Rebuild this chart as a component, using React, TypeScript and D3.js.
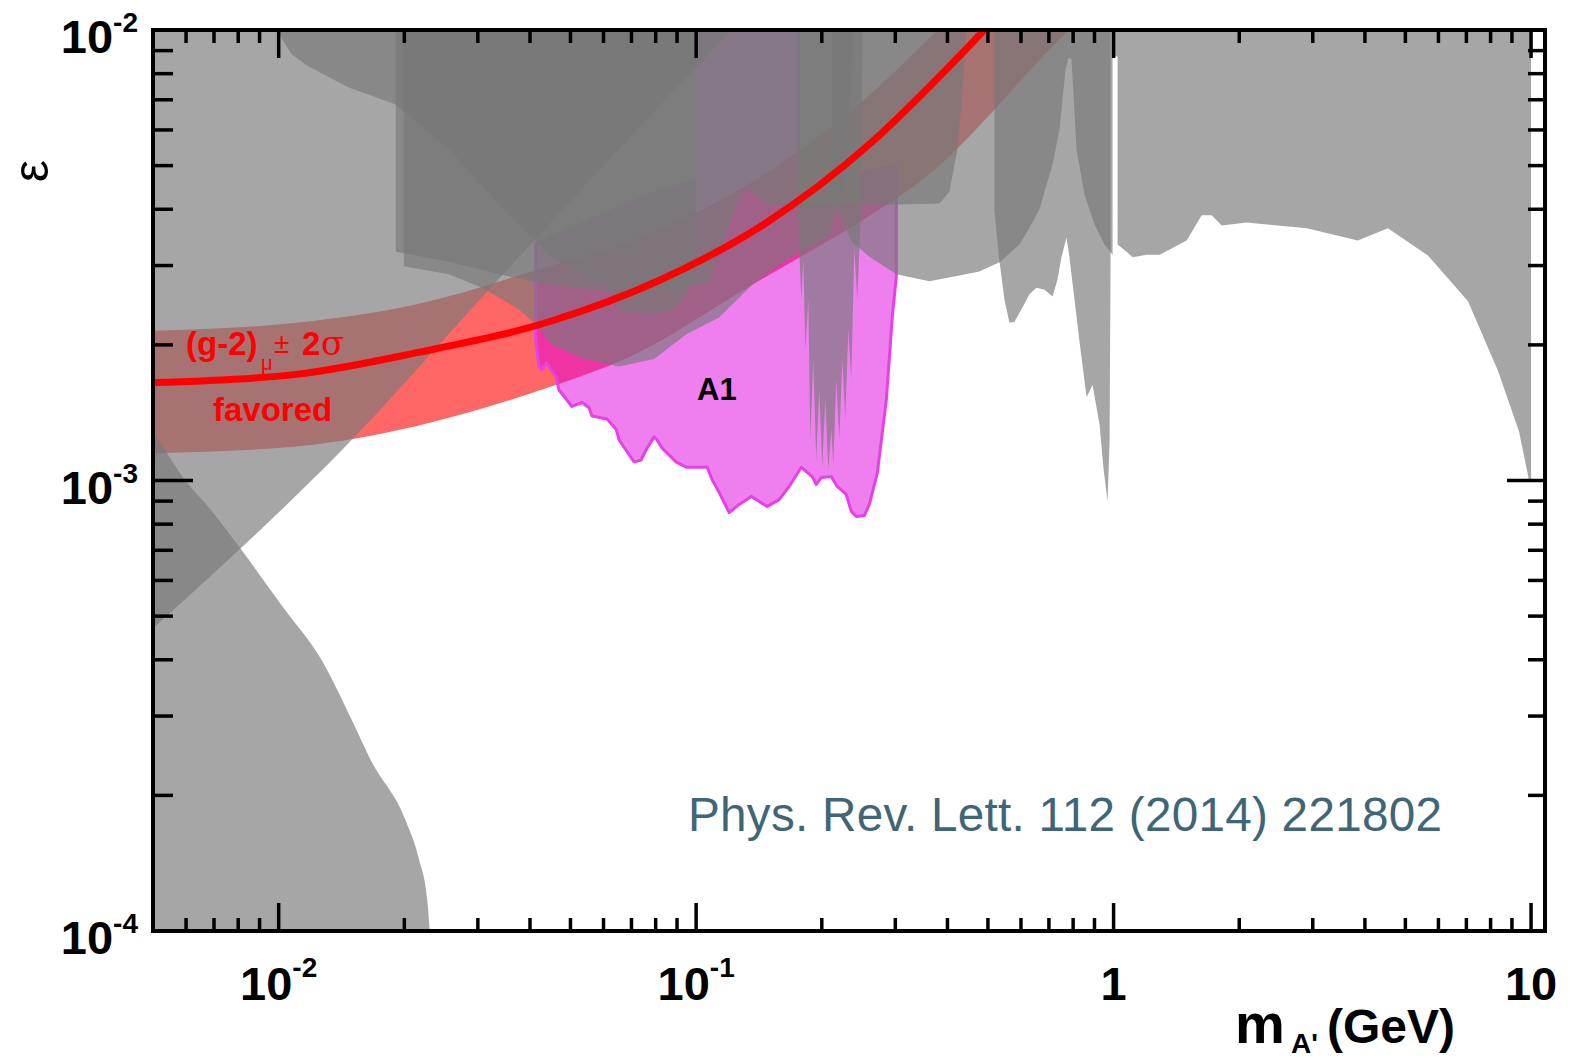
import * as d3 from 'd3'

type Pt = [number, number]

// axis labels
const xMajor = [0.01, 0.1, 1, 10]
const xMajorLabels: [string, string][] = [['10', '-2'], ['10', '-1'], ['1', ''], ['10', '']]
const yMajor = [1e-4, 1e-3, 1e-2]
const yMajorLabels: [string, string][] = [['10', '-4'], ['10', '-3'], ['10', '-2']]

// (g-2)_mu favoured: central curve and +-2 sigma band (mass GeV, epsilon)
const gm2Mass = [0.005, 0.011, 0.0213, 0.045, 0.0815, 0.1464, 0.2614, 0.404, 0.49, 0.52]
const gm2Central = [1.65e-3, 1.72e-3, 1.92e-3, 2.26e-3, 2.78e-3, 3.72e-3, 5.6e-3, 8.3e-3, 1.0e-2, 1.06e-2]
const bandUpperMass = [0.005, 0.011, 0.0213, 0.0404, 0.0815, 0.1464, 0.2614, 0.38, 0.45]
const bandUpperEps = [2.15e-3, 2.24e-3, 2.46e-3, 2.91e-3, 3.6e-3, 4.8e-3, 7.2e-3, 1.0e-2, 1.15e-2]
const bandLowerMass = [0.005, 0.011, 0.0213, 0.0376, 0.0444, 0.0691, 0.1363, 0.275, 0.343, 0.772, 0.85]
const bandLowerEps = [1.15e-3, 1.19e-3, 1.32e-3, 1.53e-3, 1.61e-3, 1.88e-3, 2.72e-3, 4.0e-3, 4.6e-3, 9.9e-3, 1.08e-2]

// excluded regions (grey)
const aeLimit: Pt[] = [[0.005, 4.7e-4], [0.0081, 7.06e-4], [0.0142, 1.17e-3], [0.0307, 2.55e-3], [0.0376, 3.13e-3], [0.1213, 1e-2]]
const beamDumpLimit: Pt[] = [[0.005, 1.28e-3], [0.0053, 1.18e-3], [0.0059, 1.015e-3], [0.0068, 8.71e-4], [0.0081, 7.06e-4], [0.009, 6.18e-4], [0.0103, 5.2e-4], [0.0126, 4.03e-4], [0.015, 2.93e-4], [0.0166, 2.4e-4], [0.0202, 1.75e-4], [0.0217, 1.44e-4], [0.0227, 1.17e-4], [0.023, 1e-4]]
const upperRegion: Pt[] = [[0.00989, 1e-2], [0.01075, 8.82e-3], [0.0118, 8.3e-3], [0.01472, 7.45e-3], [0.01908, 6.83e-3], [0.02557, 5.43e-3], [0.0337, 4.1e-3], [0.0413, 3.39e-3], [0.0452, 3.13e-3], [0.0545, 2.82e-3], [0.0654, 2.68e-3], [0.0862, 2.63e-3], [0.1, 2.72e-3], [0.1074, 2.75e-3], [0.1167, 3.43e-3], [0.1268, 4.25e-3], [0.1325, 4.43e-3], [0.1496, 4.1e-3], [0.1766, 4.04e-3], [0.2327, 4.1e-3], [0.3068, 4.1e-3], [0.3826, 4.12e-3], [0.4044, 4.38e-3], [0.4226, 5.43e-3], [0.4345, 7.38e-3], [0.4442, 1e-2]]
const wasa: Pt[] = [[0.01908, 1e-2], [0.01908, 3.22e-3], [0.02557, 3.06e-3], [0.0337, 2.87e-3], [0.0444, 2.72e-3], [0.0585, 2.65e-3], [0.0626, 2.63e-3], [0.0654, 2.37e-3], [0.0772, 2.35e-3], [0.0862, 2.37e-3], [0.0926, 2.5e-3], [0.0962, 2.68e-3], [0.1, 2.79e-3], [0.1, 1e-2]]
const hades: Pt[] = [[0.01995, 1e-2], [0.01995, 2.99e-3], [0.02557, 2.87e-3], [0.0307, 2.68e-3], [0.0376, 2.4e-3], [0.0413, 2.22e-3], [0.0452, 2.0e-3], [0.0539, 1.86e-3], [0.0654, 1.79e-3], [0.0793, 1.86e-3], [0.0946, 2.11e-3], [0.1135, 2.3e-3], [0.1363, 2.72e-3], [0.1581, 3.0e-3], [0.1866, 3.3e-3], [0.2084, 3.5e-3], [0.2264, 4.5e-3], [0.2393, 1e-2]]
const apex: Pt[] = [[0.1746, 1e-2], [0.1746, 4.2e-3], [0.1786, 2.52e-3], [0.1806, 3.09e-3], [0.1826, 1.95e-3], [0.1857, 2.52e-3], [0.1877, 1.23e-3], [0.1908, 1.86e-3], [0.194, 1.11e-3], [0.1972, 1.59e-3], [0.2005, 1.07e-3], [0.2039, 1.51e-3], [0.2073, 1.06e-3], [0.2108, 1.3e-3], [0.2131, 1.085e-3], [0.2167, 1.68e-3], [0.2203, 1.23e-3], [0.224, 1.86e-3], [0.2277, 1.37e-3], [0.2315, 2.16e-3], [0.2353, 1.68e-3], [0.2393, 3.26e-3], [0.2433, 2.52e-3], [0.2487, 4.2e-3], [0.2501, 1e-2]]
const babar: Pt[] = [[0.2119, 1e-2], [0.2119, 4.2e-3], [0.2366, 3.38e-3], [0.26, 3.14e-3], [0.3017, 2.87e-3], [0.3621, 2.77e-3], [0.4272, 2.85e-3], [0.4771, 2.91e-3], [0.533, 3.05e-3], [0.595, 3.34e-3], [0.6289, 3.64e-3], [0.6644, 4.0e-3], [0.7141, 5.03e-3], [0.7422, 6.01e-3], [0.7672, 8.17e-3], [0.78, 8.69e-3], [0.793, 8.6e-3], [0.8152, 5.43e-3], [0.852, 4.31e-3], [0.9002, 3.7e-3], [0.9515, 3.34e-3], [0.9945, 3.17e-3], [0.9945, 8.73e-3], [1.0223, 8.73e-3], [1.0223, 3.34e-3], [1.0745, 3.22e-3], [1.1106, 3.13e-3], [1.1996, 3.17e-3], [1.2894, 3.17e-3], [1.4966, 3.41e-3], [1.6255, 3.88e-3], [1.7179, 3.88e-3], [1.8155, 3.68e-3], [2.0841, 3.74e-3], [2.9024, 3.63e-3], [3.8461, 3.41e-3], [4.5407, 3.63e-3], [5.6624, 3.16e-3], [7.0632, 2.5e-3], [8.3367, 1.75e-3], [9.3589, 1.285e-3], [9.89, 1e-3], [10, 1e-3], [10, 1e-2]]
const kloe: Pt[] = [[0.5184, 1e-2], [0.5184, 3.96e-3], [0.533, 3.06e-3], [0.5478, 2.52e-3], [0.5631, 2.24e-3], [0.5788, 2.25e-3], [0.6017, 2.4e-3], [0.6289, 2.59e-3], [0.6536, 2.68e-3], [0.6831, 2.65e-3], [0.7141, 2.56e-3], [0.7337, 2.79e-3], [0.7501, 3.13e-3], [0.7711, 3.46e-3], [0.784, 3.13e-3], [0.8062, 2.52e-3], [0.8288, 2.03e-3], [0.8616, 1.53e-3], [0.8759, 1.58e-3], [0.8905, 1.63e-3], [0.9256, 1.33e-3], [0.9462, 1.06e-3], [0.9674, 8.98e-4], [0.9782, 1.23e-3], [0.9836, 3.17e-3], [0.9836, 1e-2]]

// this measurement (A1)
const a1Region: Pt[] = [[0.0413, 3.38e-3], [0.0586, 3.9e-3], [0.0815, 4.43e-3], [0.1, 4.66e-3], [0.1, 1e-2], [0.1766, 1e-2], [0.1766, 4.1e-3], [0.246, 4.1e-3], [0.246, 4.85e-3], [0.3017, 5.03e-3], [0.3017, 2.84e-3], [0.2951, 2.31e-3], [0.2855, 1.51e-3], [0.2717, 1.04e-3], [0.26, 8.85e-4], [0.2529, 8.36e-4], [0.2419, 8.32e-4], [0.2353, 8.54e-4], [0.2289, 9.31e-4], [0.2178, 9.7e-4], [0.2108, 1.02e-3], [0.1994, 1.015e-3], [0.194, 9.8e-4], [0.1897, 1.02e-3], [0.1786, 1.07e-3], [0.1671, 9.7e-4], [0.1581, 9.07e-4], [0.148, 8.76e-4], [0.1355, 9.22e-4], [0.1268, 8.85e-4], [0.12, 8.49e-4], [0.1135, 9.41e-4], [0.1092, 1.005e-3], [0.1063, 1.07e-3], [0.0946, 1.07e-3], [0.0895, 1.1e-3], [0.0829, 1.18e-3], [0.0806, 1.23e-3], [0.0793, 1.25e-3], [0.0759, 1.17e-3], [0.0738, 1.11e-3], [0.071, 1.1e-3], [0.0654, 1.23e-3], [0.0643, 1.3e-3], [0.0612, 1.37e-3], [0.0563, 1.39e-3], [0.0554, 1.45e-3], [0.0533, 1.49e-3], [0.0504, 1.46e-3], [0.0469, 1.59e-3], [0.0462, 1.7e-3], [0.0437, 1.83e-3], [0.0427, 1.76e-3], [0.042, 1.79e-3], [0.0413, 2.06e-3]]

const greyRegions = [upperRegion, wasa, hades, apex, babar, kloe]

const font = '"Liberation Sans", Arial, Helvetica, sans-serif'

export default function App() {
  const width = 1577
  const height = 1058
  const left = 153
  const right = 1545
  const top = 30
  const bottom = 931

  const x = d3.scaleLog().domain([0.005, 10.8]).range([left, right])
  const y = d3.scaleLog().domain([1e-4, 1e-2]).range([bottom, top])

  const poly = d3.line<Pt>().x((d) => x(d[0])).y((d) => y(d[1]))
  const smooth = d3
    .line<Pt>()
    .x((d) => x(d[0]))
    .y((d) => y(d[1]))
    .curve(d3.curveMonotoneX)
  const areaAbove = d3
    .area<Pt>()
    .x((d) => x(d[0]))
    .y0(top)
    .y1((d) => y(d[1]))
    .curve(d3.curveMonotoneX)
  const areaBelow = d3
    .area<Pt>()
    .x((d) => x(d[0]))
    .y0(bottom)
    .y1((d) => y(d[1]))
    .curve(d3.curveMonotoneX)

  const central: Pt[] = gm2Mass.map((m, i) => [m, gm2Central[i]])
  const upper: Pt[] = bandUpperMass.map((m, i) => [m, bandUpperEps[i]])
  const lower: Pt[] = bandLowerMass.map((m, i) => [m, bandLowerEps[i]])
  const bandPath =
    smooth(upper) + 'L' + (smooth(lower.slice().reverse()) || '').slice(1) + 'Z'

  const a1Outline = a1Region.slice(9).concat([a1Region[0]])

  const xTicks = x.ticks().filter((t) => t > 0.0051 && t < 10.5)
  const yTicks = y.ticks()
  const isMajor = (t: number) => Math.abs(Math.log10(t) - Math.round(Math.log10(t))) < 1e-6

  const grey = '#787878'
  const greyOpacity = 0.66

  return (
    <svg
      width={width}
      height={height}
      style={{ position: 'absolute', left: 0, top: 0, background: '#fff' }}
      fontFamily={font}
    >
      <defs>
        <clipPath id='plot'>
          <rect x={left} y={top} width={right - left} height={bottom - top} />
        </clipPath>
      </defs>

      <g clipPath='url(#plot)'>
        <path d={bandPath} fill='#ff0000' fillOpacity={0.6} />
        <path d={poly(a1Region) + 'Z'} fill='#e000e0' fillOpacity={0.5} />
        <path d={poly(a1Outline) || ''} fill='none' stroke='#e640e6' strokeWidth={3} strokeLinejoin='round' />
        <path d={areaAbove(aeLimit) || ''} fill={grey} fillOpacity={greyOpacity} />
        <path d={areaBelow(beamDumpLimit) || ''} fill={grey} fillOpacity={greyOpacity} />
        {greyRegions.map((r, i) => (
          <path key={i} d={poly(r) + 'Z'} fill={grey} fillOpacity={greyOpacity} />
        ))}
        <path d={smooth(central) || ''} fill='none' stroke='#ff0000' strokeWidth={7} />
      </g>

      {/* labels inside the plot */}
      <g fill='#ff0000'>
        <text x={186} y={355} fontSize={33} fontWeight='bold'>(g-2)</text>
        <text x={261} y={370} fontSize={20}>μ</text>
        <text x={274} y={353} fontSize={28}>±</text>
        <text x={302} y={355} fontSize={33} fontWeight='bold'>2</text>
        <text x={321} y={355} fontSize={34} fontFamily='"DejaVu Serif", serif'>σ</text>
        <text x={213} y={421} fontSize={33} fontWeight='bold'>favored</text>
      </g>
      <text x={697} y={400} fontSize={31} fontWeight='bold'>A1</text>
      <text x={688} y={831} fontSize={47.7} fill='#3f6677' textLength={754} lengthAdjust='spacing'>
        Phys. Rev. Lett. 112 (2014) 221802
      </text>

      {/* frame and ticks */}
      <rect x={left} y={top} width={right - left} height={bottom - top} fill='none' stroke='#000' strokeWidth={4} />
      <g stroke='#000' strokeWidth={3.5}>
        {xTicks.map((t, i) => {
          const len = isMajor(t) ? 28 : 13
          return (
            <g key={'x' + i}>
              <line x1={x(t)} x2={x(t)} y1={bottom} y2={bottom - len} />
              <line x1={x(t)} x2={x(t)} y1={top} y2={top + len} />
            </g>
          )
        })}
        {yTicks.map((t, i) => {
          const len = isMajor(t) ? 40 : 20
          return (
            <g key={'y' + i}>
              <line x1={left} x2={left + len} y1={y(t)} y2={y(t)} />
              <line x1={right} x2={right - (isMajor(t) ? 38 : 17)} y1={y(t)} y2={y(t)} />
            </g>
          )
        })}
      </g>

      <g fontWeight='bold' fontSize={47}>
        {xMajor.map((t, i) => (
          <text key={'xl' + i} x={x(t)} y={1000} textAnchor='middle'>
            {xMajorLabels[i][0]}
            {xMajorLabels[i][1] && (
              <tspan dy={-23} fontSize={28}>{xMajorLabels[i][1]}</tspan>
            )}
          </text>
        ))}
        {yMajor.map((t, i) => (
          <text key={'yl' + i} x={138} y={y(t) + 23} textAnchor='end'>
            {yMajorLabels[i][0]}
            <tspan dy={-21} fontSize={28}>{yMajorLabels[i][1]}</tspan>
          </text>
        ))}
      </g>

      {/* axis titles */}
      <g fontWeight='bold'>
        <text x={1235} y={1043} fontSize={56}>m</text>
        <text x={1291} y={1053} fontSize={28}>A'</text>
        <text x={1327} y={1043} fontSize={48}>(GeV)</text>
      </g>
      <text
        transform='translate(48,171) rotate(-90)'
        textAnchor='middle'
        fontSize={50}
      >
        ε
      </text>
    </svg>
  )
}
